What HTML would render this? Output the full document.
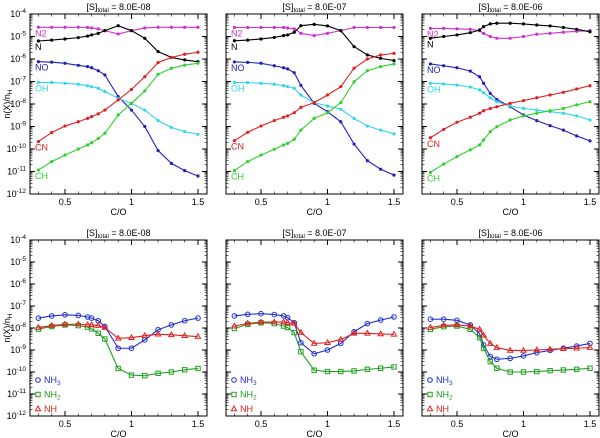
<!DOCTYPE html>
<html><head><meta charset="utf-8"><style>
body{margin:0;background:#fff}
svg{display:block;font-family:"Liberation Sans",sans-serif}
</style></head><body>
<svg id="chart" width="600" height="438" viewBox="0 0 600 438" xmlns="http://www.w3.org/2000/svg"></svg>
<script>
const xs = [0.3,0.4,0.5,0.6,0.67,0.7,0.75,0.8,0.9,1.0,1.1,1.2,1.3,1.4,1.5];
const titles = ["8.0E-08","8.0E-07","8.0E-06"];
const xTicks = [0.5,1,1.5];
const xTickLabels = ["0.5","1","1.5"];
const yTicks = [-4,-5,-6,-7,-8,-9,-10,-11,-12];
// top row log10 values [panel]
const N2 = [
 [-4.59,-4.59,-4.59,-4.59,-4.6,-4.62,-4.66,-4.74,-4.89,-4.74,-4.62,-4.59,-4.59,-4.59,-4.59],
 [-4.6,-4.6,-4.6,-4.6,-4.6,-4.62,-4.66,-4.86,-4.96,-4.86,-4.74,-4.6,-4.6,-4.6,-4.6],
 [-4.64,-4.64,-4.66,-4.68,-4.74,-4.86,-5.0,-5.08,-5.08,-5.0,-4.9,-4.86,-4.81,-4.77,-4.74]];
const Nn = [
 [-5.2,-5.16,-5.11,-5.05,-4.98,-4.93,-4.86,-4.74,-4.52,-4.74,-5.08,-5.67,-5.93,-6.04,-6.12],
 [-5.19,-5.16,-5.11,-5.04,-4.96,-4.93,-4.81,-4.52,-4.46,-4.53,-4.74,-5.45,-5.82,-5.97,-6.07],
 [-5.08,-5.0,-4.93,-4.83,-4.71,-4.56,-4.44,-4.41,-4.41,-4.44,-4.49,-4.53,-4.6,-4.68,-4.79]];
const NO = [
 [-6.12,-6.14,-6.19,-6.28,-6.34,-6.39,-6.52,-6.71,-7.67,-8.27,-9.0,-10.07,-10.64,-10.96,-11.2],
 [-6.13,-6.15,-6.19,-6.3,-6.39,-6.44,-6.61,-7.17,-7.97,-8.34,-8.79,-9.78,-10.52,-10.9,-11.16],
 [-6.22,-6.3,-6.39,-6.54,-6.79,-7.08,-7.53,-7.8,-8.12,-8.49,-8.74,-8.96,-9.16,-9.42,-9.64]];
const OH = [
 [-7.04,-7.04,-7.08,-7.12,-7.19,-7.23,-7.3,-7.45,-7.75,-7.97,-8.27,-8.74,-9.04,-9.23,-9.35],
 [-7.04,-7.05,-7.08,-7.12,-7.19,-7.23,-7.3,-7.6,-7.94,-8.09,-8.23,-8.64,-8.98,-9.16,-9.33],
 [-7.08,-7.11,-7.16,-7.25,-7.37,-7.5,-7.73,-7.9,-8.09,-8.2,-8.27,-8.34,-8.41,-8.53,-8.71]];
const CN = [
 [-9.67,-9.27,-8.98,-8.79,-8.64,-8.56,-8.44,-8.27,-7.82,-7.35,-6.79,-6.16,-5.93,-5.79,-5.7],
 [-9.63,-9.26,-8.98,-8.74,-8.59,-8.53,-8.39,-8.15,-7.94,-7.6,-7.23,-6.41,-6.0,-5.82,-5.75],
 [-9.5,-9.13,-8.81,-8.59,-8.41,-8.3,-8.2,-8.12,-7.97,-7.85,-7.72,-7.6,-7.48,-7.33,-7.19]];
const CH = [
 [-10.93,-10.56,-10.27,-10.0,-9.82,-9.72,-9.53,-9.3,-8.49,-7.97,-7.42,-6.68,-6.41,-6.27,-6.19],
 [-10.96,-10.56,-10.27,-10.01,-9.82,-9.75,-9.57,-9.16,-8.64,-8.39,-7.94,-7.01,-6.52,-6.34,-6.22],
 [-11.04,-10.67,-10.34,-10.04,-9.82,-9.6,-9.23,-9.01,-8.71,-8.53,-8.41,-8.3,-8.2,-8.04,-7.9]];
// bottom row
const NH3 = [
 [-7.55,-7.45,-7.4,-7.43,-7.5,-7.55,-7.67,-7.93,-8.92,-8.92,-8.54,-8.08,-7.86,-7.67,-7.55],
 [-7.45,-7.38,-7.35,-7.39,-7.45,-7.53,-7.76,-8.67,-9.17,-9.0,-8.7,-8.17,-7.8,-7.64,-7.5],
 [-7.6,-7.6,-7.65,-7.86,-8.26,-8.77,-9.3,-9.42,-9.38,-9.27,-9.12,-9.02,-8.92,-8.82,-8.7]];
const NH2 = [
 [-8.05,-7.93,-7.86,-7.89,-7.96,-8.04,-8.24,-8.5,-9.84,-10.14,-10.17,-10.06,-10.0,-9.9,-9.84],
 [-8.02,-7.83,-7.76,-7.8,-7.91,-7.98,-8.21,-9.08,-9.92,-9.98,-9.98,-9.95,-9.88,-9.83,-9.77],
 [-8.06,-7.94,-7.91,-8.06,-8.44,-8.92,-9.53,-9.83,-10.0,-10.0,-9.98,-9.94,-9.91,-9.88,-9.83]];
const NH = [
 [-7.98,-7.89,-7.83,-7.83,-7.86,-7.86,-7.89,-7.98,-8.47,-8.44,-8.35,-8.28,-8.31,-8.35,-8.39],
 [-7.91,-7.79,-7.73,-7.73,-7.73,-7.76,-7.79,-8.21,-8.7,-8.67,-8.52,-8.24,-8.24,-8.27,-8.29],
 [-7.98,-7.88,-7.86,-7.91,-8.06,-8.33,-8.71,-8.89,-9.02,-9.02,-9.0,-8.97,-8.94,-8.92,-8.89]];

const svg = document.getElementById('chart');
const NS = "http://www.w3.org/2000/svg";
function mk(tag, attrs, parent){const e=document.createElementNS(NS,tag);for(const k in attrs)e.setAttribute(k,attrs[k]);(parent||svg).appendChild(e);return e;}
const X0s=[30,226,422], W=177, XMIN=0.237, XPX=133;
function sx(p,v){return X0s[p]+(v-XMIN)*XPX;}
const rows=[{top:14,dec:22.5},{top:240,dec:22}];
function sy(r,lv){return rows[r].top+(-4-lv)*rows[r].dec;}

function axes(p,r){
  const g=mk('g',{});
  
  
  const x0=X0s[p], y0=rows[r].top, h=8*rows[r].dec;
  const f=mk('rect',{x:x0,y:y0,width:W,height:h,fill:'none',stroke:'#000','stroke-width':1},g);
  
  
  // y ticks
  for(let d=-12; d<=-4; d++){
    const y=sy(r,d);
    mk('line',{x1:x0,y1:y,x2:x0+5,y2:y,stroke:'#000'},g);
    mk('line',{x1:x0+W,y1:y,x2:x0+W-5,y2:y,stroke:'#000'},g);
    if(d<-4) for(let m=2;m<=9;m++){
      const yy=sy(r,d+Math.log10(m));
      mk('line',{x1:x0,y1:yy,x2:x0+2.5,y2:yy,stroke:'#000','stroke-width':0.6},g);
      mk('line',{x1:x0+W,y1:yy,x2:x0+W-2.5,y2:yy,stroke:'#000','stroke-width':0.6},g);
    }
    if(p===0){
      const t=mk('text',{x:x0-4,y:y+3,'font-size':9,'text-anchor':'end'},g);
      
      
      t.innerHTML='10<tspan dy="-4" font-size="6.5">'+d+'</tspan>';
    }
  }
  // x ticks
  for(let v=0.3; v<=1.56; v+=0.1){
    const x=sx(p,v), major=Math.abs(v*2-Math.round(v*2))<1e-6;
    const L=major?5:2.5;
    mk('line',{x1:x,y1:y0+h,x2:x,y2:y0+h-L,stroke:'#000','stroke-width':major?1:0.6},g);
    mk('line',{x1:x,y1:y0,x2:x,y2:y0+L,stroke:'#000','stroke-width':major?1:0.6},g);
  }
  xTicks.forEach((v,i)=>{
    const t=mk('text',{x:sx(p,v),y:y0+h+11,'font-size':9,'text-anchor':'middle'},g);
    
    
    t.textContent=xTickLabels[i];
  });
  const xl=mk('text',{x:x0+W/2,y:y0+h+21,'font-size':9,'text-anchor':'middle'},g);
  
  
  xl.textContent='C/O';
  const tt=mk('text',{x:x0+W/2,y:y0-4,'font-size':9,'text-anchor':'middle'},g);
  
  
  tt.innerHTML='[S]<tspan dy="2" font-size="6">total</tspan><tspan dy="-2"> = '+titles[p]+'</tspan>';
  if(p===0){
    const yl=mk('text',{x:0,y:0,'font-size':9,'text-anchor':'middle',transform:'translate(10,'+(y0+h/2)+') rotate(-90)'},g);
    
    
    yl.innerHTML='n(X)/n<tspan dy="2" font-size="6.5">H</tspan>';
  }
}

function series(p,r,vals,color,name,marker){
  const g=mk('g',{});
  
  
  const pts=xs.map((x,i)=>[sx(p,x),sy(r,vals[i])]);
  mk('polyline',{points:pts.map(q=>q.join(',')).join(' '),fill:'none',stroke:color,'stroke-width':1.1},g);
  pts.forEach(q=>{
    let m;
    if(marker==='dot') m=mk('circle',{cx:q[0],cy:q[1],r:1.6,fill:color},g);
    else if(marker==='circle') m=mk('circle',{cx:q[0],cy:q[1],r:2.3,fill:'none',stroke:color,'stroke-width':1},g);
    else if(marker==='square') m=mk('rect',{x:q[0]-2.2,y:q[1]-2.2,width:4.4,height:4.4,fill:'none',stroke:color,'stroke-width':1},g);
    else m=mk('polygon',{points:`${q[0]},${q[1]-2.8} ${q[0]-2.6},${q[1]+1.8} ${q[0]+2.6},${q[1]+1.8}`,fill:'none',stroke:color,'stroke-width':1},g);
    
    
  });
  return pts;
}

const topSpec=[[N2,'#d030d0','N2'],[Nn,'#000','N'],[NO,'#2020c0','NO'],[OH,'#30d8e8','OH'],[CN,'#e02020','CN'],[CH,'#30d030','CH']];
const botSpec=[[NH3,'#2030d0','NH3','circle'],[NH2,'#20a020','NH2','square'],[NH,'#e02020','NH','tri']];
for(let p=0;p<3;p++){
  axes(p,0);
  topSpec.forEach(s=>{
    const pts=series(p,0,s[0][p],s[1],s[2],'dot');
    const t=mk('text',{x:X0s[p]+5,y:pts[0][1]+9,'font-size':9,fill:s[1]});
    
    
    t.textContent=s[2];
  });
  axes(p,1);
  botSpec.forEach((s,i)=>{
    series(p,1,s[0][p],s[1],s[2],s[3]);
    const lx=X0s[p]+8, ly=383+i*14.5;
    let m;
    if(s[3]==='circle') m=mk('circle',{cx:lx,cy:ly-3,r:2.3,fill:'none',stroke:s[1]});
    else if(s[3]==='square') m=mk('rect',{x:lx-2.2,y:ly-5.2,width:4.4,height:4.4,fill:'none',stroke:s[1]});
    else m=mk('polygon',{points:`${lx},${ly-6} ${lx-2.6},${ly-1.3} ${lx+2.6},${ly-1.3}`,fill:'none',stroke:s[1]});
    
    
    const t=mk('text',{x:lx+6,y:ly,'font-size':9,fill:s[1]});
    
    
    t.innerHTML=s[2]==='NH'?'NH':'NH<tspan dy="2" font-size="6.5">'+s[2].slice(2)+'</tspan>';
  });
}
</script>
</body></html>
